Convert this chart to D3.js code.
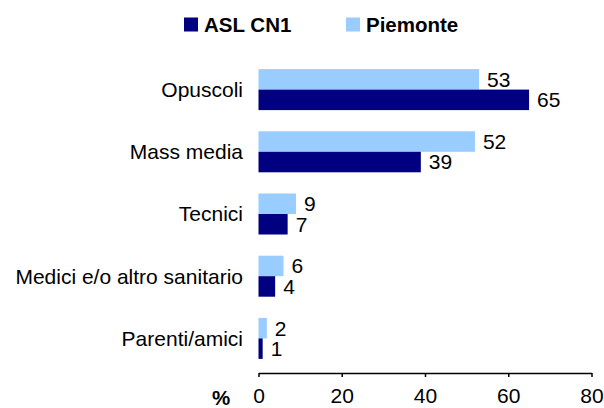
<!DOCTYPE html>
<html>
<head>
<meta charset="utf-8">
<script src="https://cdn.jsdelivr.net/npm/d3@7"></script>
<style>
  body { margin: 0; background: #fff; }
  text { font-family: "Liberation Sans", Arial, sans-serif; fill: #000; }
</style>
</head>
<body>
<div id="chart"></div>
<script>
const width = 604, height = 408;

// data
const categories = ['Opuscoli', 'Mass media', 'Tecnici', 'Medici e/o altro sanitario', 'Parenti/amici'];
const aslValues = [65, 39, 7, 4, 1];
const piemonteValues = [53, 52, 9, 6, 2];
const seriesNames = ['ASL CN1', 'Piemonte'];
const seriesColors = ['#000080', '#99ccff'];
const xTicks = [0, 20, 40, 60, 80];

const svg = d3.select('#chart').append('svg')
  .attr('width', width)
  .attr('height', height);

const x = d3.scaleLinear()
  .domain([0, 80])
  .range([258.5, 591.5]);

const y = d3.scaleBand()
  .domain(categories)
  .range([58.5, 369.5]);

const barH = 20.5;
const fs = '21px';

const rows = categories.map((c, i) => ({cat: c, asl: aslValues[i], pie: piemonteValues[i]}));

const g = svg.append('g');

// Piemonte bars (top of each pair)
g.selectAll('rect.pie')
  .data(rows)
  .enter().append('rect')
  .attr('class', 'pie')
  .attr('x', x(0))
  .attr('y', d => y(d.cat) + y.bandwidth() / 2 - barH)
  .attr('width', d => x(d.pie) - x(0))
  .attr('height', barH)
  .attr('fill', seriesColors[1]);

// ASL bars (below)
g.selectAll('rect.asl')
  .data(rows)
  .enter().append('rect')
  .attr('class', 'asl')
  .attr('x', x(0))
  .attr('y', d => y(d.cat) + y.bandwidth() / 2)
  .attr('width', d => x(d.asl) - x(0))
  .attr('height', barH)
  .attr('fill', seriesColors[0]);

// value labels
g.selectAll('text.vpie')
  .data(rows)
  .enter().append('text')
  .attr('x', d => x(d.pie) + 8)
  .attr('y', d => y(d.cat) + y.bandwidth() / 2 - barH / 2)
  .attr('dy', '0.35em')
  .style('font-size', fs)
  .text(d => d.pie);

g.selectAll('text.vasl')
  .data(rows)
  .enter().append('text')
  .attr('x', d => x(d.asl) + 8)
  .attr('y', d => y(d.cat) + y.bandwidth() / 2 + barH / 2)
  .attr('dy', '0.35em')
  .style('font-size', fs)
  .text(d => d.asl);

// category labels
g.selectAll('text.cat')
  .data(categories)
  .enter().append('text')
  .attr('x', 243)
  .attr('y', d => y(d) + y.bandwidth() / 2)
  .attr('dy', '0.35em')
  .attr('text-anchor', 'end')
  .style('font-size', fs)
  .text(d => d);

// x axis
const axis = svg.append('g')
  .attr('transform', 'translate(0,373)')
  .call(d3.axisBottom(x).tickValues(xTicks).tickSize(4).tickPadding(11).tickSizeOuter(0));
axis.select('.domain').attr('stroke', '#000').attr('stroke-width', 1.5);
axis.selectAll('.tick line').attr('stroke', '#000').attr('stroke-width', 1.5);
axis.selectAll('.tick text')
  .style('font-size', fs)
  .style('font-family', '"Liberation Sans", Arial, sans-serif')
  .attr('fill', '#000');

svg.append('text')
  .attr('x', 221)
  .attr('y', 398)
  .attr('dy', '0.35em')
  .attr('text-anchor', 'middle')
  .style('font-size', '20.5px')
  .style('font-weight', 'bold')
  .text('%');

// legend
const legendX = [184, 346];
const legend = svg.selectAll('g.leg')
  .data(seriesNames)
  .enter().append('g')
  .attr('transform', (d, i) => `translate(${legendX[i]},17.5)`);
legend.append('rect')
  .attr('width', 14)
  .attr('height', 14)
  .attr('fill', (d, i) => seriesColors[i]);
legend.append('text')
  .attr('x', 20)
  .attr('y', 7)
  .attr('dy', '0.35em')
  .style('font-size', '20.5px')
  .style('font-weight', 'bold')
  .text(d => d);
</script>
</body>
</html>
